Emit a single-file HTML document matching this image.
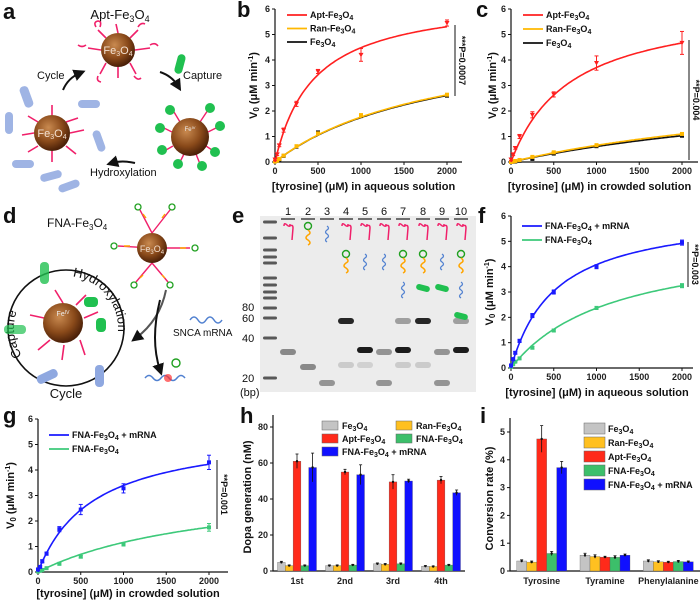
<!DOCTYPE html>
<html><head><meta charset="utf-8">
<style>
html,body{margin:0;padding:0;background:#fff;}
svg{display:block;font-family:"Liberation Sans",Arial,sans-serif;}
.tk{font-size:9px;font-weight:bold;fill:#222;}
.at{font-size:11px;font-weight:bold;fill:#111;}
.pl{font-size:22px;font-weight:bold;fill:#111;}
.lg{font-size:9px;font-weight:bold;fill:#111;}
</style></head>
<body>
<svg id="fig" width="700" height="604" viewBox="0 0 700 604" xmlns="http://www.w3.org/2000/svg">
<defs>
<radialGradient id="sph" cx="40%" cy="35%" r="65%">
<stop offset="0" stop-color="#c98a50"/><stop offset="0.6" stop-color="#8a4a1a"/><stop offset="1" stop-color="#4a2008"/>
</radialGradient>
<marker id="ah" markerWidth="6" markerHeight="6" refX="3" refY="3" orient="auto"><path d="M0,0 L6,3 L0,6 z" fill="#111"/></marker>
</defs>

<!-- panel letters -->
<text class="pl" x="3" y="19">a</text>
<text class="pl" x="237" y="17">b</text>
<text class="pl" x="476" y="17">c</text>
<text class="pl" x="3" y="223">d</text>
<text class="pl" x="232" y="223">e</text>
<text class="pl" x="478" y="223">f</text>
<text class="pl" x="3" y="423">g</text>
<text class="pl" x="240" y="423">h</text>
<text class="pl" x="480" y="423">i</text>

<!-- panel a schematic -->
<g>
<text x="120" y="19" text-anchor="middle" font-size="13" fill="#111">Apt-Fe<tspan dy="3" font-size="9">3</tspan><tspan dy="-3">O</tspan><tspan dy="3" font-size="9">4</tspan></text>
<g stroke="#f0206a" stroke-width="1.6" fill="none">
<path d="M118,33 L116,24 M106,38 L98,30 M130,38 L138,30 M101,50 L88,48 M135,50 L150,48 M106,63 L100,74 M130,63 L136,74 M118,67 L118,78"/>
<path d="M96,27 q-3,-5 2,-6 q4,0 2,6 M138,27 q3,-5 7,-3 M86,45 q-4,3 -8,0 M150,45 q5,-3 8,1 M98,76 q-2,5 3,6 M134,76 q4,5 7,2"/>
</g>
<circle cx="118" cy="50" r="17" fill="url(#sph)"/>
<text x="118" y="54" text-anchor="middle" font-size="11" fill="#f3e0d0">Fe<tspan font-size="7" dy="2">3</tspan><tspan dy="-2">O</tspan><tspan font-size="7" dy="2">4</tspan></text>
<rect x="176" y="54" width="8" height="20" rx="4" fill="#20c050" transform="rotate(15 180 64)"/>
<text x="183" y="79" font-size="11" fill="#111">Capture</text>
<text x="37" y="79" font-size="11" fill="#111">Cycle</text>
<text x="90" y="176" font-size="11" fill="#111">Hydroxylation</text>
<path d="M63,90 Q68,78 80,73" stroke="#111" stroke-width="2" fill="none" marker-end="url(#ah)"/>
<path d="M160,72 Q172,76 178,86" stroke="#111" stroke-width="2" fill="none" marker-end="url(#ah)"/>
<path d="M135,163 Q122,160 112,163" stroke="#111" stroke-width="2" fill="none" marker-end="url(#ah)"/>
<g fill="#8fa8e0" opacity="0.85">
<rect x="22" y="86" width="9" height="22" rx="4" transform="rotate(-20 26 97)"/>
<rect x="5" y="112" width="8" height="22" rx="4"/>
<rect x="12" y="160" width="22" height="8" rx="4"/>
<rect x="40" y="172" width="22" height="8" rx="4" transform="rotate(-15 51 176)"/>
<rect x="58" y="182" width="22" height="8" rx="4" transform="rotate(-20 69 186)"/>
<rect x="78" y="100" width="22" height="8" rx="4"/>
<rect x="95" y="130" width="8" height="22" rx="4" transform="rotate(-20 99 141)"/>
</g>
<g stroke="#f0206a" stroke-width="1.6" fill="none">
<path d="M52,115 L52,105 M38,122 L28,116 M66,122 L78,118 M34,133 L22,135 M70,133 L84,130 M38,146 L28,152 M66,146 L76,154 M52,151 L52,162"/>
</g>
<circle cx="52" cy="133" r="18" fill="url(#sph)"/>
<text x="52" y="137" text-anchor="middle" font-size="11" fill="#f3e0d0">Fe<tspan font-size="7" dy="2">3</tspan><tspan dy="-2">O</tspan><tspan font-size="7" dy="2">4</tspan></text>
<g stroke="#f0206a" stroke-width="1.4" fill="none"><path d="M174,112 L180,122 M208,110 L200,122 M164,128 L172,132 M216,128 L208,132 M166,150 L173,146 M212,150 L206,146 M180,162 L184,154 M200,164 L196,154"/></g>
<g fill="#20c050">
<circle cx="170" cy="110" r="5"/><circle cx="210" cy="108" r="5"/><circle cx="160" cy="128" r="5"/><circle cx="220" cy="126" r="5"/>
<circle cx="162" cy="150" r="5"/><circle cx="215" cy="152" r="5"/><circle cx="178" cy="164" r="5"/><circle cx="202" cy="166" r="5"/>
</g>
<circle cx="190" cy="137" r="19" fill="url(#sph)"/>
<text x="190" y="131" text-anchor="middle" font-size="6" fill="#eee">Fe<tspan font-size="4" dy="-2">IV</tspan></text>
</g>

<!-- panel d schematic -->
<g>
<text x="47" y="227" font-size="12" fill="#111">FNA-Fe<tspan dy="3" font-size="8">3</tspan><tspan dy="-3">O</tspan><tspan dy="3" font-size="8">4</tspan></text>
<g stroke="#f0206a" stroke-width="1.4" fill="none">
<path d="M152,233 L140,210 M152,233 L170,210 M152,248 L118,246 M152,248 L190,248 M152,263 L136,282 M152,263 L168,282"/>
</g>
<g stroke="#ffa500" stroke-width="1.4" fill="none"><path d="M143,214 l3,4 M165,214 l-3,4 M124,246 l6,0 M180,248 l6,0 M140,278 l3,-3 M165,278 l-3,-3"/></g>
<g stroke="#20a020" stroke-width="1.3" fill="none">
<circle cx="138" cy="207" r="3"/><circle cx="172" cy="207" r="3"/><circle cx="114" cy="246" r="3"/><circle cx="195" cy="248" r="3"/><circle cx="134" cy="285" r="3"/><circle cx="170" cy="285" r="3"/>
</g>
<circle cx="152" cy="248" r="15" fill="url(#sph)"/>
<text x="152" y="252" text-anchor="middle" font-size="9" fill="#f3e0d0">Fe<tspan font-size="6" dy="2">3</tspan><tspan dy="-2">O</tspan><tspan font-size="6" dy="2">4</tspan></text>
<circle cx="66" cy="328" r="58" stroke="#111" stroke-width="1.6" fill="none"/>
<path id="cyc" d="M66,380 A52,52 0 1 1 66.01,380" fill="none"/>
<text x="66" y="398" text-anchor="middle" font-size="13" fill="#111">Cycle</text>
<text font-size="13" fill="#111"><textPath href="#cyc" startOffset="16%">Capture</textPath></text>
<text font-size="13" fill="#111"><textPath href="#cyc" startOffset="52%">Hydroxylation</textPath></text>
<g stroke="#f0206a" stroke-width="1.6" fill="none"><path d="M63,303 L55,290 M44,318 L30,315 M50,340 L38,350 M64,345 L62,360 M80,340 L85,355 M84,318 L98,312 M76,305 L86,295"/></g>
<rect x="40" y="262" width="9" height="22" rx="4" fill="#20c050" opacity="0.8"/>
<rect x="4" y="325" width="22" height="9" rx="4" fill="#20c050" opacity="0.7"/>
<rect x="84" y="297" width="14" height="10" rx="4" fill="#20c050"/>
<rect x="96" y="318" width="10" height="14" rx="4" fill="#20c050"/>
<rect x="36" y="372" width="22" height="9" rx="4" fill="#8fa8e0" transform="rotate(-25 47 376)"/>
<rect x="95" y="365" width="9" height="22" rx="4" fill="#8fa8e0"/>
<circle cx="63" cy="323" r="20" fill="url(#sph)"/>
<text x="63" y="316" text-anchor="middle" font-size="7" fill="#eee">Fe<tspan font-size="5" dy="-2">IV</tspan></text>
<path d="M166,290 Q160,320 136,338" stroke="#555" stroke-width="2" fill="none" marker-end="url(#ah)"/>
<path d="M160,300 Q150,340 160,370" stroke="#111" stroke-width="2" fill="none" marker-end="url(#ah)"/>
<path d="M190,320 q4,-6 8,0 t8,0 t8,0 t8,0" stroke="#5080d0" stroke-width="1.5" fill="none"/>
<text x="173" y="336" font-size="10" fill="#111">SNCA mRNA</text>
<path d="M145,378 q4,-5 8,0 t8,0 t8,0 t8,0 t8,0" stroke="#5080d0" stroke-width="1.5" fill="none"/>
<circle cx="168" cy="378" r="4" fill="#ff3030" opacity="0.7"/>
<circle cx="176" cy="363" r="4" stroke="#20a020" stroke-width="1.4" fill="none"/>
</g>

<!-- panel e gel -->
<g>
<rect x="260" y="216" width="216" height="176" fill="#ececec"/>
<g id="gel"></g>
<text x="242" y="311" font-size="11" fill="#111">80</text>
<text x="242" y="322" font-size="11" fill="#111">60</text>
<text x="242" y="342" font-size="11" fill="#111">40</text>
<text x="242" y="382" font-size="11" fill="#111">20</text>
<text x="240" y="396" font-size="11" fill="#111">(bp)</text>
</g>

<g id="charts"></g>
</svg>

<script>
// ---------- kinetic data ----------
const conc = [0, 25, 50, 100, 250, 500, 1000, 2000];
const bApt = [0.1, 0.3, 0.65, 1.25, 2.28, 3.55, 4.2, 5.45];
const bAptErr = [0.05, 0.05, 0.05, 0.08, 0.1, 0.08, 0.25, 0.12];
const bRan = [0.02, 0.05, 0.12, 0.25, 0.62, 1.12, 1.84, 2.64];
const bFe = [0.02, 0.05, 0.1, 0.24, 0.6, 1.16, 1.8, 2.6];
const bAptFit = [6.5, 450];
const bRanFit = [5.2, 1950];
const bFeFit = [5.15, 1950];
const cApt = [0.1, 0.3, 0.55, 1.0, 1.85, 2.65, 3.88, 4.67];
const cAptErr = [0.05, 0.05, 0.05, 0.08, 0.12, 0.1, 0.28, 0.45];
const cRan = [0.0, 0.02, 0.04, 0.08, 0.2, 0.38, 0.66, 1.1];
const cFe = [0.0, 0.01, 0.02, 0.05, 0.12, 0.33, 0.62, 1.03];
const cAptFit = [6.3, 700];
const cRanFit = [3.4, 4200];
const cFeFit = [3.4, 4600];
const fMrna = [0.1, 0.35, 0.6, 1.07, 2.07, 3.0, 4.0, 4.95];
const fMrnaErr = [0.05, 0.05, 0.05, 0.06, 0.08, 0.08, 0.08, 0.1];
const fFna = [0.05, 0.15, 0.25, 0.38, 0.8, 1.48, 2.37, 3.25];
const fFnaErr = [0.03, 0.03, 0.03, 0.04, 0.05, 0.05, 0.06, 0.08];
const fMrnaFit = [6.2, 520];
const fFnaFit = [5.2, 1200];
const gMrna = [0.1, 0.2, 0.42, 0.72, 1.68, 2.45, 3.28, 4.3];
const gMrnaErr = [0.05, 0.05, 0.06, 0.06, 0.1, 0.2, 0.18, 0.28];
const gFna = [0.02, 0.05, 0.08, 0.15, 0.32, 0.6, 1.08, 1.75];
const gFnaErr = [0.02, 0.02, 0.03, 0.03, 0.04, 0.05, 0.06, 0.15];
const gMrnaFit = [5.6, 650];
const gFnaFit = [3.6, 2100];
const xTicks = [0, 500, 1000, 1500, 2000];
const vTicks = [0, 1, 2, 3, 4, 5, 6];

// ---------- bar data ----------
const hCats = ['1st', '2nd', '3rd', '4th'];
const hFe = [4.8, 3.0, 4.0, 2.7];
const hRan = [3.0, 3.0, 3.7, 2.5];
const hApt = [61, 55, 49.5, 50.5];
const hFna = [3.0, 3.3, 4.0, 3.3];
const hMrna = [57.5, 53.5, 50, 43.5];
const hAptErr = [4, 1.5, 4, 2];
const hMrnaErr = [8, 5.5, 1, 1.5];
const hTicks = [0, 20, 40, 60, 80];
const iCats = ['Tyrosine', 'Tyramine', 'Phenylalanine'];
const iFe = [0.36, 0.57, 0.36];
const iRan = [0.32, 0.52, 0.33];
const iApt = [4.75, 0.5, 0.32];
const iFna = [0.63, 0.49, 0.34];
const iMrna = [3.72, 0.57, 0.33];
const iAptErr = [0.48, 0.03, 0.03];
const iMrnaErr = [0.22, 0.04, 0.03];
const iTicks = [0, 1, 2, 3, 4, 5];

const NS = 'http://www.w3.org/2000/svg';
const root = document.getElementById('charts');
function mk(tag, attrs, parent) {
  const e = document.createElementNS(NS, tag);
  for (const k in attrs) e.setAttribute(k, attrs[k]);
  (parent || root).appendChild(e);
  return e;
}
function fe(pre, post) {
  return pre + 'Fe<tspan dy="2" font-size="7">3</tspan><tspan dy="-2">O</tspan><tspan dy="2" font-size="7">4</tspan><tspan dy="-2">' + (post || '') + '</tspan>';
}

function axes(o, prefix) {
  const sx = v => o.x0 + (v - o.xmin) / (o.xmax - o.xmin) * (o.x1 - o.x0);
  const sy = v => o.y0 - v / o.ymax * (o.y0 - o.y1);
  const ax = mk('path', {d: `M${o.x0},${o.ytop} L${o.x0},${o.y0} L${o.xend},${o.y0}`, stroke: '#111', 'stroke-width': 1.2, fill: 'none'});
  
  
  o.yt.forEach(v => {
    mk('line', {x1: o.x0 - 3, x2: o.x0, y1: sy(v), y2: sy(v), stroke: '#111'});
    const t = mk('text', {x: o.x0 - 5, y: sy(v) + 3, 'text-anchor': 'end', class: 'tk'});
    t.textContent = v;
    
    
  });
  if (o.xt) o.xt.forEach(v => {
    mk('line', {x1: sx(v), x2: sx(v), y1: o.y0, y2: o.y0 + 3, stroke: '#111'});
    const t = mk('text', {x: sx(v), y: o.y0 + 12, 'text-anchor': 'middle', class: 'tk'});
    t.textContent = v;
    
    
  });
  return {sx, sy};
}

function kinetic(o, prefix, series, legend, pval) {
  o.xmin = 0; o.xmax = 2000; o.ymax = 6; o.xt = xTicks; o.yt = vTicks;
  const s = axes(o, prefix);
  series.forEach(se => {
    let d = '';
    for (let k = 0; k <= 100; k++) {
      const x = 2000 * k / 100;
      const y = se.fit[0] * x / (se.fit[1] + x);
      d += (k ? 'L' : 'M') + s.sx(x).toFixed(1) + ',' + s.sy(y).toFixed(1);
    }
    const p = mk('path', {d: d, stroke: se.color, 'stroke-width': 1.6, fill: 'none'});
    
    
    conc.forEach((c, i) => {
      const v = se.vals[i];
      const err = se.err ? se.err[i] : 0.03;
      mk('line', {x1: s.sx(c), x2: s.sx(c), y1: s.sy(v + err), y2: s.sy(v - err), stroke: se.color, 'stroke-width': 1});
      mk('line', {x1: s.sx(c) - 2, x2: s.sx(c) + 2, y1: s.sy(v + err), y2: s.sy(v + err), stroke: se.color, 'stroke-width': 1});
      mk('line', {x1: s.sx(c) - 2, x2: s.sx(c) + 2, y1: s.sy(v - err), y2: s.sy(v - err), stroke: se.color, 'stroke-width': 1});
      const m = se.tri ? mk('path', {d: `M${s.sx(c) - 2.5},${s.sy(v) - 2} L${s.sx(c) + 2.5},${s.sy(v) - 2} L${s.sx(c)},${s.sy(v) + 2.5} z`, fill: se.color})
                       : mk('rect', {x: s.sx(c) - 2, y: s.sy(v) - 2, width: 4, height: 4, fill: se.color});
      
      
    });
  });
  legend.items.forEach((it, i) => {
    const y = legend.y + i * legend.dy;
    mk('line', {x1: legend.x, x2: legend.x + 20, y1: y, y2: y, stroke: it.color, 'stroke-width': 1.8});
    const t = mk('text', {x: legend.x + 23, y: y + 3, class: 'lg'});
    t.innerHTML = it.label;
    
    
  });
  mk('line', {x1: pval.x, x2: pval.x, y1: pval.ya, y2: pval.yb, stroke: '#111', 'stroke-width': 1});
  const pt = mk('text', {x: pval.x + 4, y: (pval.ya + pval.yb) / 2, transform: `rotate(90 ${pval.x + 4} ${(pval.ya + pval.yb) / 2})`, 'text-anchor': 'middle', 'font-size': 9, 'font-weight': 'bold', fill: '#111'});
  pt.textContent = pval.text;
  
  
  const yt = mk('text', {x: o.ytx, y: (o.y0 + o.y1) / 2, transform: `rotate(-90 ${o.ytx} ${(o.y0 + o.y1) / 2})`, 'text-anchor': 'middle', class: 'at'});
  yt.innerHTML = 'V<tspan dy="2" font-size="8">0</tspan><tspan dy="-2"> (μM min</tspan><tspan dy="-4" font-size="7">-1</tspan><tspan dy="4">)</tspan>';
  
  
  const xt = mk('text', {x: (o.x0 + o.xend) / 2 - 5, y: o.xty, 'text-anchor': 'middle', class: 'at'});
  xt.textContent = o.xtitle;
  
  
}

const RED = '#ff2020', YEL = '#ffb800', BLK = '#111', BLU = '#1a1aff', GRN = '#3dc97a';
kinetic({x0: 275, x1: 447, xend: 462, y0: 162, y1: 9, ytop: 9, ytx: 257, xty: 190, xtitle: '[tyrosine] (μM) in aqueous solution'}, 'chart-b',
  [{name: 'fe3o4', vals: bFe, fit: bFeFit, color: BLK}, {name: 'ran', vals: bRan, fit: bRanFit, color: YEL}, {name: 'apt', vals: bApt, err: bAptErr, fit: bAptFit, color: RED, tri: true}],
  {x: 287, y: 15, dy: 13.5, items: [{color: RED, label: fe('Apt-')}, {color: YEL, label: fe('Ran-')}, {color: BLK, label: fe('')}]},
  {x: 455, ya: 25, yb: 96, text: '***P=0.0007'});
kinetic({x0: 511, x1: 682, xend: 698, y0: 162, y1: 9, ytop: 9, ytx: 496, xty: 190, xtitle: '[tyrosine] (μM) in crowded solution'}, 'chart-c',
  [{name: 'fe3o4', vals: cFe, fit: cFeFit, color: BLK}, {name: 'ran', vals: cRan, fit: cRanFit, color: YEL}, {name: 'apt', vals: cApt, err: cAptErr, fit: cAptFit, color: RED, tri: true}],
  {x: 523, y: 15, dy: 14, items: [{color: RED, label: fe('Apt-')}, {color: YEL, label: fe('Ran-')}, {color: BLK, label: fe('')}]},
  {x: 689, ya: 40, yb: 160, text: '**P=0.004'});
kinetic({x0: 511, x1: 682, xend: 693, y0: 368, y1: 216, ytop: 216, ytx: 493, xty: 396, xtitle: '[tyrosine] (μM) in aqueous solution'}, 'chart-f',
  [{name: 'fna', vals: fFna, err: fFnaErr, fit: fFnaFit, color: GRN}, {name: 'fna-mrna', vals: fMrna, err: fMrnaErr, fit: fMrnaFit, color: BLU}],
  {x: 522, y: 226, dy: 14, items: [{color: BLU, label: fe('FNA-', ' + mRNA')}, {color: GRN, label: fe('FNA-')}]},
  {x: 688, ya: 242, yb: 287, text: '**P=0.003'});
kinetic({x0: 38, x1: 209, xend: 228, y0: 572, y1: 419, ytop: 419, ytx: 14, xty: 597, xtitle: '[tyrosine] (μM) in crowded solution'}, 'chart-g',
  [{name: 'fna', vals: gFna, err: gFnaErr, fit: gFnaFit, color: GRN}, {name: 'fna-mrna', vals: gMrna, err: gMrnaErr, fit: gMrnaFit, color: BLU}],
  {x: 49, y: 435, dy: 14, items: [{color: BLU, label: fe('FNA-', ' + mRNA')}, {color: GRN, label: fe('FNA-')}]},
  {x: 217, ya: 460, yb: 529, text: '**P=0.001'});

// ---------- bar charts ----------
const BC = ['#c4c4c4', '#ffc020', '#ff2a1a', '#3cbf6a', '#1010ff'];
const BN = ['fe3o4', 'ran', 'apt', 'fna', 'fna-mrna'];
function bars(o, prefix, cats, sets, errs) {
  o.xmin = 0; o.xmax = 1;
  const s = axes(o, prefix);
  const band = (o.xend - o.x0) / cats.length;
  cats.forEach((c, ci) => {
    const cx = o.x0 + band * (ci + 0.5);
    sets.forEach((arr, si) => {
      const v = arr[ci];
      const x = cx + (si - 2.5) * o.bw;
      const r = mk('rect', {x: x, y: s.sy(v), width: o.bw, height: o.y0 - s.sy(v), fill: BC[si], stroke: '#555', 'stroke-width': 0.3});
      
      
      const e = errs[si] ? errs[si][ci] : v * 0.12;
      const mx = x + o.bw / 2;
      mk('line', {x1: mx, x2: mx, y1: s.sy(v + e), y2: s.sy(Math.max(0, v - e)), stroke: '#111', 'stroke-width': 0.8});
      mk('line', {x1: mx - 1.5, x2: mx + 1.5, y1: s.sy(v + e), y2: s.sy(v + e), stroke: '#111', 'stroke-width': 0.8});
      mk('circle', {cx: mx, cy: s.sy(v), r: 1.2, fill: '#111'});
    });
    const t = mk('text', {x: cx, y: o.y0 + 13, 'text-anchor': 'middle', class: 'tk', 'font-size': 10});
    t.textContent = c;
    
    
  });
  const yt = mk('text', {x: o.ytx, y: (o.y0 + o.ytop) / 2 + 4, transform: `rotate(-90 ${o.ytx} ${(o.y0 + o.ytop) / 2 + 4})`, 'text-anchor': 'middle', class: 'at', 'font-size': 12});
  yt.textContent = o.ytitle;
  
  
}
bars({x0: 273, xend: 465, y0: 571, y1: 427, ytop: 415, ymax: 80, yt: hTicks, bw: 7.8, ytx: 251, ytitle: 'Dopa generation (nM)'}, 'chart-h',
  hCats, [hFe, hRan, hApt, hFna, hMrna], [null, null, hAptErr, null, hMrnaErr]);
bars({x0: 510, xend: 700, y0: 571, y1: 432, ytop: 418, ymax: 5, yt: iTicks, bw: 10, ytx: 493, ytitle: 'Conversion rate (%)'}, 'chart-i',
  iCats, [iFe, iRan, iApt, iFna, iMrna], [null, null, iAptErr, null, iMrnaErr]);

// legends for bar charts
const hLeg = [[322, 426, 0, ''], [396, 426, 1, 'Ran-'], [322, 439, 2, 'Apt-'], [396, 439, 3, 'FNA-'], [322, 452, 4, 'FNA-']];
hLeg.forEach(l => {
  const r = mk('rect', {x: l[0], y: l[1] - 5, width: 16, height: 9, fill: BC[l[2]], stroke: '#666', 'stroke-width': 0.5});
  
  
  const t = mk('text', {x: l[0] + 20, y: l[1] + 3, class: 'lg', 'font-weight': 'normal'});
  t.innerHTML = fe(l[3], l[2] === 4 ? ' + mRNA' : '');
  
  
});
const iLegPre = ['', 'Ran-', 'Apt-', 'FNA-', 'FNA-'];
iLegPre.forEach((p, k) => {
  const y = 428 + k * 14;
  const r = mk('rect', {x: 584, y: y - 5, width: 21, height: 11, fill: BC[k], stroke: '#666', 'stroke-width': 0.5});
  
  
  const t = mk('text', {x: 608, y: y + 4, class: 'lg', 'font-size': 10, 'font-weight': 'normal'});
  t.innerHTML = fe(p, k === 4 ? ' + mRNA' : '');
  
  
});

// ---------- gel ----------
const gel = document.getElementById('gel');
const laneX = [288, 308, 327, 346, 365, 384, 403, 423, 442, 461];
const ladderY = [222, 238, 250, 257, 263, 278, 285, 292, 298, 308, 318, 338, 378];
ladderY.forEach(y => {
  const b = mk('rect', {x: 263, y: y - 1.5, width: 14, height: 3, rx: 1.5, fill: '#333', opacity: 0.8}, gel);
  
  
});
const bands = [[0,352,0.45],[1,367,0.45],[2,383,0.4],[3,321,0.9],[3,365,0.15],[4,350,0.95],[4,365,0.12],[5,352,0.4],[5,383,0.4],[6,321,0.35],[6,350,0.95],[6,365,0.15],[7,321,0.9],[7,365,0.15],[8,352,0.4],[8,383,0.4],[9,321,0.35],[9,350,0.95]];
bands.forEach(b => {
  const r = mk('rect', {x: laneX[b[0]] - 8, y: b[1] - 3, width: 16, height: 6, rx: 3, fill: '#111', opacity: b[2]}, gel);
  
  
});
laneX.forEach((x, i) => {
  const t = mk('text', {x: x, y: 215, 'text-anchor': 'middle', 'font-size': 11, fill: '#111'}, gel);
  t.textContent = i + 1;
  
  
  mk('line', {x1: x - 7, x2: x + 7, y1: 219, y2: 219, stroke: '#444', 'stroke-width': 1.5}, gel);
});
const icons = [[0,0],[1,1],[2,2],[3,0],[3,1],[4,0],[4,2],[5,0],[5,2],[6,0],[6,1],[6,2],[7,0],[7,1],[7,3],[8,0],[8,2],[8,3],[9,0],[9,1],[9,2],[9,3]];
const rowCount = {};
icons.forEach(ic => {
  const lane = ic[0], type = ic[1];
  rowCount[lane] = (rowCount[lane] || 0);
  const x = laneX[lane];
  const y = 232 + rowCount[lane] * 28;
  rowCount[lane]++;
  if (type === 0) {
    const p = mk('path', {d: `M${x - 4},${y - 6} q0,-4 3,-1 q3,3 3,-1 M${x + 2},${y - 6} q3,-2 3,2 L${x + 4},${y + 8}`, stroke: '#f0206a', 'stroke-width': 1.5, fill: 'none'}, gel);
    
    
  } else if (type === 1) {
    mk('circle', {cx: x, cy: y - 6, r: 3.5, stroke: '#20a020', 'stroke-width': 1.4, fill: 'none'}, gel);
    const p = mk('path', {d: `M${x},${y - 2} q4,3 0,5 q-4,3 0,5 q4,3 0,5`, stroke: '#ffa500', 'stroke-width': 1.5, fill: 'none'}, gel);
    
    
  } else if (type === 2) {
    const p = mk('path', {d: `M${x},${y - 6} q3,2 0,4 q-3,2 0,4 q3,2 0,4 q-3,2 0,4`, stroke: '#5080d0', 'stroke-width': 1.3, fill: 'none'}, gel);
    
    
  } else {
    const p = mk('rect', {x: x - 7, y: y - 3, width: 14, height: 6, rx: 3, fill: '#20c050', transform: `rotate(15 ${x} ${y})`}, gel);
    
    
  }
});
</script>
</body></html>
